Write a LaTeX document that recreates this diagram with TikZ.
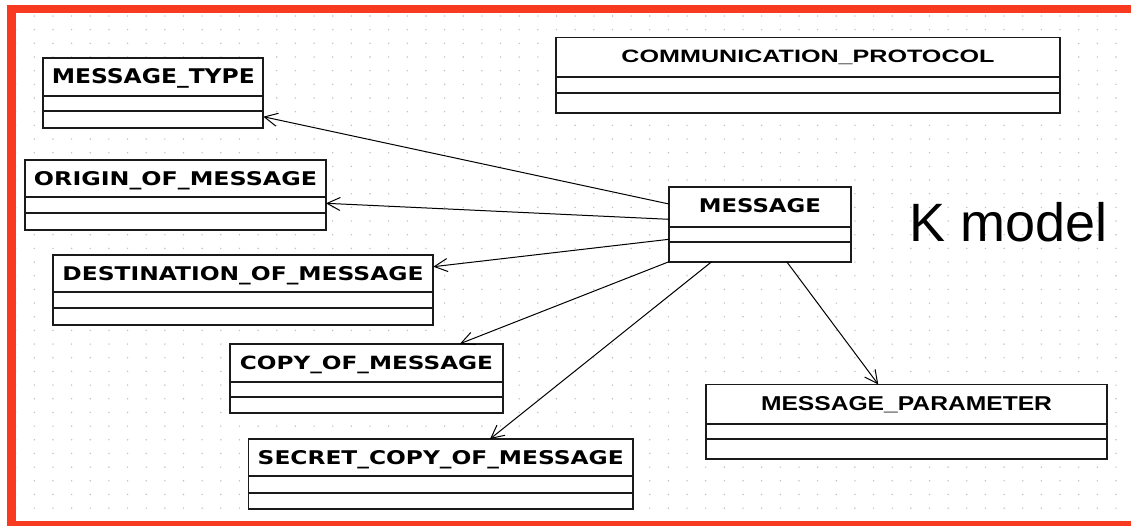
\documentclass[tikz,border=0pt]{standalone}
\usepackage{fontspec}
\usepackage{graphicx}
\setmainfont{Liberation Sans}
\newfontfamily\pixfont{DejaVu Sans}
\newfontfamily\arialfont{Liberation Sans}
\usetikzlibrary{arrows.meta,calc}

\definecolor{framered}{RGB}{248,58,32}
\definecolor{griddot}{RGB}{192,192,192}
\definecolor{boxline}{RGB}{26,26,26}

% class names: squeezed/stretched to a given ink width and cap height
\newcommand\pixlabel[3]{\resizebox{#1pt}{#2pt}{\pixfont\bfseries #3}}
\newcommand\smoothlabel[3]{\resizebox{#1pt}{#2pt}{\arialfont\bfseries #3}}

\begin{document}
\begin{tikzpicture}[x=1pt,y=-1pt,
  cls/.style={draw=boxline, line width=1.8pt, fill=white, rectangle,
              inner sep=0pt, outer sep=0pt, anchor=north west},
  divider/.style={draw=boxline, line width=1.8pt},
  ttl/.style={inner sep=0pt, outer sep=0pt, anchor=base},
  assoc/.style={draw=black, line width=1pt,
                -{Straight Barb[length=13pt,width=13pt]}},
]
\useasboundingbox (0,0) rectangle (1131,525);
\clip (0,0) rectangle (1131,525);
\fill[white] (0,0) rectangle (1131,525);

% dotted drawing grid
\foreach \i in {0,...,59}
  \foreach \j in {0,...,36}
    \fill[griddot] ({15.65+18.65*\i},{16+13.67*\j}) circle (0.8pt);

% red frame
\draw[framered, line width=8.4pt] (11.5,9.2) rectangle (1145,525);

% ---------- classes ----------
% MESSAGE_TYPE
\node[cls, minimum width=220pt, minimum height=70pt] (mtype) at (43.3,57.7) {};
\draw[divider] ([yshift=-38pt]mtype.north west) -- ([yshift=-38pt]mtype.north east);
\draw[divider] ([yshift=-53.3pt]mtype.north west) -- ([yshift=-53.3pt]mtype.north east);
\node[ttl] (mtype-t) at ([yshift=-25.6pt]mtype.north) {\pixlabel{203}{15}{MESSAGE\_TYPE}};

% COMMUNICATION_PROTOCOL
\node[cls, minimum width=504pt, minimum height=75.2pt] (comm) at (556,37.5) {};
\draw[divider] ([yshift=-39.5pt]comm.north west) -- ([yshift=-39.5pt]comm.north east);
\draw[divider] ([yshift=-55.2pt]comm.north west) -- ([yshift=-55.2pt]comm.north east);
\node[ttl] (comm-t) at ([yshift=-24.5pt]comm.north) {\smoothlabel{373}{12.5}{COMMUNICATION\_PROTOCOL}};

% ORIGIN_OF_MESSAGE
\node[cls, minimum width=301pt, minimum height=70pt] (origin) at (25,160) {};
\draw[divider] ([yshift=-37.3pt]origin.north west) -- ([yshift=-37.3pt]origin.north east);
\draw[divider] ([yshift=-52.7pt]origin.north west) -- ([yshift=-52.7pt]origin.north east);
\node[ttl] (origin-t) at ([yshift=-25pt]origin.north) {\pixlabel{283}{14}{ORIGIN\_OF\_MESSAGE}};

% DESTINATION_OF_MESSAGE
\node[cls, minimum width=380.6pt, minimum height=70pt] (dest) at (52.7,255) {};
\draw[divider] ([yshift=-37.3pt]dest.north west) -- ([yshift=-37.3pt]dest.north east);
\draw[divider] ([yshift=-53.3pt]dest.north west) -- ([yshift=-53.3pt]dest.north east);
\node[ttl] (dest-t) at ([yshift=-25.7pt]dest.north) {\pixlabel{361}{14}{DESTINATION\_OF\_MESSAGE}};

% COPY_OF_MESSAGE
\node[cls, minimum width=273pt, minimum height=69.6pt] (copy) at (230,343.7) {};
\draw[divider] ([yshift=-38pt]copy.north west) -- ([yshift=-38pt]copy.north east);
\draw[divider] ([yshift=-53pt]copy.north west) -- ([yshift=-53pt]copy.north east);
\node[ttl] (copy-t) at ([yshift=-25.6pt]copy.north) {\pixlabel{253}{13.5}{COPY\_OF\_MESSAGE}};

% SECRET_COPY_OF_MESSAGE
\node[cls, minimum width=384.5pt, minimum height=70pt] (secret) at (248.5,439) {};
\draw[divider] ([yshift=-37pt]secret.north west) -- ([yshift=-37pt]secret.north east);
\draw[divider] ([yshift=-53.7pt]secret.north west) -- ([yshift=-53.7pt]secret.north east);
\node[ttl] (secret-t) at ([yshift=-25.8pt]secret.north) {\pixlabel{366}{14}{SECRET\_COPY\_OF\_MESSAGE}};

% MESSAGE
\node[cls, minimum width=181.7pt, minimum height=74.4pt] (msg) at (669,187.3) {};
\draw[divider] ([yshift=-39.4pt]msg.north west) -- ([yshift=-39.4pt]msg.north east);
\draw[divider] ([yshift=-54.4pt]msg.north west) -- ([yshift=-54.4pt]msg.north east);
\node[ttl] (msg-t) at ([yshift=-25pt]msg.north) {\pixlabel{122}{14}{MESSAGE}};

% MESSAGE_PARAMETER
\node[cls, minimum width=401pt, minimum height=74.8pt] (param) at (706,384.5) {};
\draw[divider] ([yshift=-39.5pt]param.north west) -- ([yshift=-39.5pt]param.north east);
\draw[divider] ([yshift=-54.8pt]param.north west) -- ([yshift=-54.8pt]param.north east);
\node[ttl] (param-t) at ([yshift=-25.5pt]param.north) {\smoothlabel{291}{14}{MESSAGE\_PARAMETER}};

% ---------- associations from MESSAGE ----------
\draw[assoc] ([yshift=-16.7pt]msg.north west) -- ([yshift=-59pt]mtype.north east);
\draw[assoc] ([yshift=-32pt]msg.north west)   -- ([yshift=-43.3pt]origin.north east);
\draw[assoc] ([yshift=-52pt]msg.north west)   -- ([yshift=-11.7pt]dest.north east);
\draw[assoc] (msg.south west)                  -- ([xshift=230pt]copy.north west);
\draw[assoc] ([xshift=42.7pt]msg.south west)   -- ([xshift=241.5pt]secret.north west);
\draw[assoc] ([xshift=117.7pt]msg.south west)  -- ([xshift=172.3pt]param.north west);

% model caption
\node[inner sep=0pt, anchor=base west] (kmodel) at (909.3,241.7)
  {\arialfont\fontsize{54}{60}\selectfont K model};
\end{tikzpicture}
\end{document}
